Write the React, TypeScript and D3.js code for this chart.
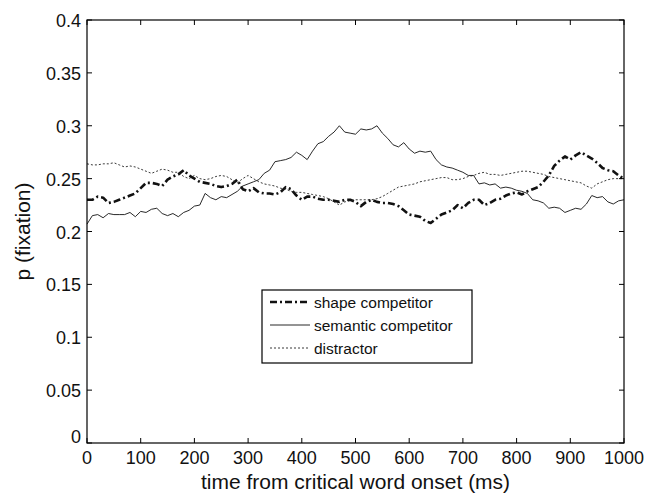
import React from "react";
import * as d3 from "d3";

// time in ms, one sample every 10 ms
const times = d3.range(0, 1001, 10);

const shapeCompetitor = [
  0.23, 0.23, 0.233, 0.232, 0.227, 0.228, 0.23, 0.232, 0.234, 0.236,
  0.241, 0.246, 0.246, 0.245, 0.243, 0.249, 0.252, 0.254, 0.258, 0.253,
  0.25, 0.247, 0.246, 0.245, 0.243, 0.242, 0.243, 0.245, 0.249, 0.24,
  0.238, 0.241, 0.237, 0.236, 0.236, 0.235, 0.237, 0.242, 0.24, 0.234,
  0.23, 0.233, 0.233, 0.231, 0.23, 0.23, 0.229, 0.228, 0.23, 0.23,
  0.228, 0.224, 0.228, 0.23, 0.228, 0.227, 0.227, 0.226, 0.224, 0.22,
  0.216, 0.215, 0.214, 0.21, 0.208, 0.212, 0.216, 0.218, 0.22, 0.225,
  0.222, 0.227, 0.23, 0.23, 0.225, 0.227, 0.23, 0.231, 0.234, 0.236,
  0.237, 0.235, 0.238, 0.24, 0.242, 0.247, 0.253, 0.262, 0.267, 0.271,
  0.268, 0.272, 0.275, 0.272, 0.269, 0.265, 0.26, 0.258, 0.257, 0.253,
  0.25,
];

const semanticCompetitor = [
  0.207, 0.215, 0.216, 0.213, 0.217, 0.216, 0.216, 0.216, 0.218, 0.214,
  0.219, 0.218, 0.221, 0.222, 0.217, 0.215, 0.217, 0.214, 0.218, 0.22,
  0.224, 0.225, 0.236, 0.232, 0.23, 0.233, 0.232, 0.235, 0.238, 0.243,
  0.245, 0.247, 0.249, 0.255, 0.258, 0.266, 0.267, 0.268, 0.27, 0.275,
  0.272, 0.268, 0.276, 0.283, 0.285, 0.29, 0.294, 0.3, 0.294, 0.293,
  0.292, 0.297, 0.296, 0.297, 0.3, 0.293, 0.288, 0.282, 0.28, 0.284,
  0.278, 0.274, 0.276, 0.275, 0.276, 0.268, 0.263, 0.261, 0.26, 0.258,
  0.256, 0.253, 0.253, 0.245, 0.246, 0.244, 0.245, 0.241, 0.242, 0.241,
  0.239, 0.238, 0.236, 0.23, 0.229, 0.227, 0.222, 0.223, 0.222, 0.218,
  0.22, 0.222, 0.221, 0.226, 0.234, 0.232, 0.233, 0.228, 0.226, 0.229,
  0.23,
];

const distractor = [
  0.264, 0.263, 0.263, 0.264, 0.264, 0.265, 0.263, 0.261, 0.262, 0.261,
  0.259, 0.257, 0.255, 0.257, 0.259, 0.258, 0.256, 0.256, 0.252, 0.25,
  0.253, 0.25, 0.249, 0.25, 0.252, 0.253, 0.252, 0.249, 0.246, 0.25,
  0.253, 0.25, 0.247, 0.245, 0.244, 0.243, 0.241, 0.24, 0.238, 0.237,
  0.237, 0.236, 0.235, 0.234, 0.233, 0.231, 0.228, 0.225, 0.228, 0.229,
  0.23, 0.23, 0.23, 0.23, 0.231, 0.233, 0.236, 0.239, 0.242, 0.243,
  0.244, 0.245, 0.247, 0.248, 0.249, 0.25, 0.251, 0.251, 0.249, 0.249,
  0.25, 0.252, 0.253, 0.255, 0.256, 0.254, 0.254, 0.253, 0.254, 0.255,
  0.256, 0.257, 0.257, 0.256, 0.255, 0.254, 0.252, 0.251, 0.25, 0.249,
  0.248, 0.247, 0.246, 0.243, 0.241, 0.245, 0.247, 0.249, 0.25, 0.25,
  0.25,
];

const xTicks = [0, 100, 200, 300, 400, 500, 600, 700, 800, 900, 1000];
const yTicks = [0, 0.05, 0.1, 0.15, 0.2, 0.25, 0.3, 0.35, 0.4];

const seriesDefs = [
  { name: "shape competitor", values: shapeCompetitor, width: 2.6, dash: "7,3,2,3", color: "#111" },
  { name: "semantic competitor", values: semanticCompetitor, width: 0.9, dash: null, color: "#111" },
  { name: "distractor", values: distractor, width: 0.9, dash: "2,2", color: "#222" },
];

const width = 648;
const height = 494;
const margin = { top: 20, right: 24, bottom: 51, left: 87 };
const font = "'Liberation Sans', Arial, Helvetica, sans-serif";

export default function App() {
  const x = d3.scaleLinear().domain([0, 1000]).range([margin.left, width - margin.right]);
  const y = d3.scaleLinear().domain([0, 0.4]).range([height - margin.bottom, margin.top]);
  const line = d3
    .line<number>()
    .x((d, i) => x(times[i]))
    .y(d => y(d));

  const x0 = x.range()[0];
  const x1 = x.range()[1];
  const y0 = y.range()[0];
  const y1 = y.range()[1];
  const tick = 5;

  const legend = { x: 262, y: 290, w: 210, h: 73, row: 23 };

  return (
    <svg
      width={width}
      height={height}
      style={{ position: "absolute", left: 0, top: 0, background: "#fff" }}
      fontFamily={font}
    >
      {/* data lines */}
      <g fill="none" strokeLinejoin="round">
        {seriesDefs.map(s => (
          <path
            key={s.name}
            d={line(s.values) || ""}
            stroke={s.color}
            strokeWidth={s.width}
            strokeDasharray={s.dash || undefined}
          />
        ))}
      </g>

      {/* axes box and ticks */}
      <rect x={x0} y={y1} width={x1 - x0} height={y0 - y1} fill="none" stroke="#000" strokeWidth={1.2} />
      <g stroke="#000" strokeWidth={1}>
        {xTicks.map(t => (
          <g key={"xt" + t}>
            <line x1={x(t)} x2={x(t)} y1={y0} y2={y0 - tick} />
            <line x1={x(t)} x2={x(t)} y1={y1} y2={y1 + tick} />
          </g>
        ))}
        {yTicks.map(t => (
          <g key={"yt" + t}>
            <line x1={x0} x2={x0 + tick} y1={y(t)} y2={y(t)} />
            <line x1={x1} x2={x1 - tick} y1={y(t)} y2={y(t)} />
          </g>
        ))}
      </g>

      {/* tick labels */}
      <g fontSize={18} fill="#111">
        {xTicks.map(t => (
          <text key={"xl" + t} x={x(t)} y={y0 + 20.5} textAnchor="middle">
            {t}
          </text>
        ))}
        {yTicks.map(t => (
          <text
            key={"yl" + t}
            x={x0 - 6}
            y={y(t) + (t === 0 ? 0 : 7)}
            textAnchor="end"
          >
            {t}
          </text>
        ))}
      </g>

      {/* axis titles */}
      <text x={(x0 + x1) / 2} y={height - 5} textAnchor="middle" fontSize={21} fill="#111">
        time from critical word onset (ms)
      </text>
      <text
        transform={`translate(${30},${(y0 + y1) / 2}) rotate(-90)`}
        textAnchor="middle"
        fontSize={21}
        fill="#111"
      >
        p (fixation)
      </text>

      {/* legend */}
      <g>
        <rect x={legend.x} y={legend.y} width={legend.w} height={legend.h} fill="#fff" stroke="#000" strokeWidth={1.2} />
        {seriesDefs.map((s, i) => {
          const ly = legend.y + 12 + i * legend.row;
          return (
            <g key={"lg" + s.name}>
              <line
                x1={legend.x + 8}
                x2={legend.x + 48}
                y1={ly}
                y2={ly}
                stroke={s.color}
                strokeWidth={s.width}
                strokeDasharray={s.dash || undefined}
              />
              <text x={legend.x + 52} y={ly + 5.5} fontSize={15.5} fill="#111">
                {s.name}
              </text>
            </g>
          );
        })}
      </g>
    </svg>
  );
}
